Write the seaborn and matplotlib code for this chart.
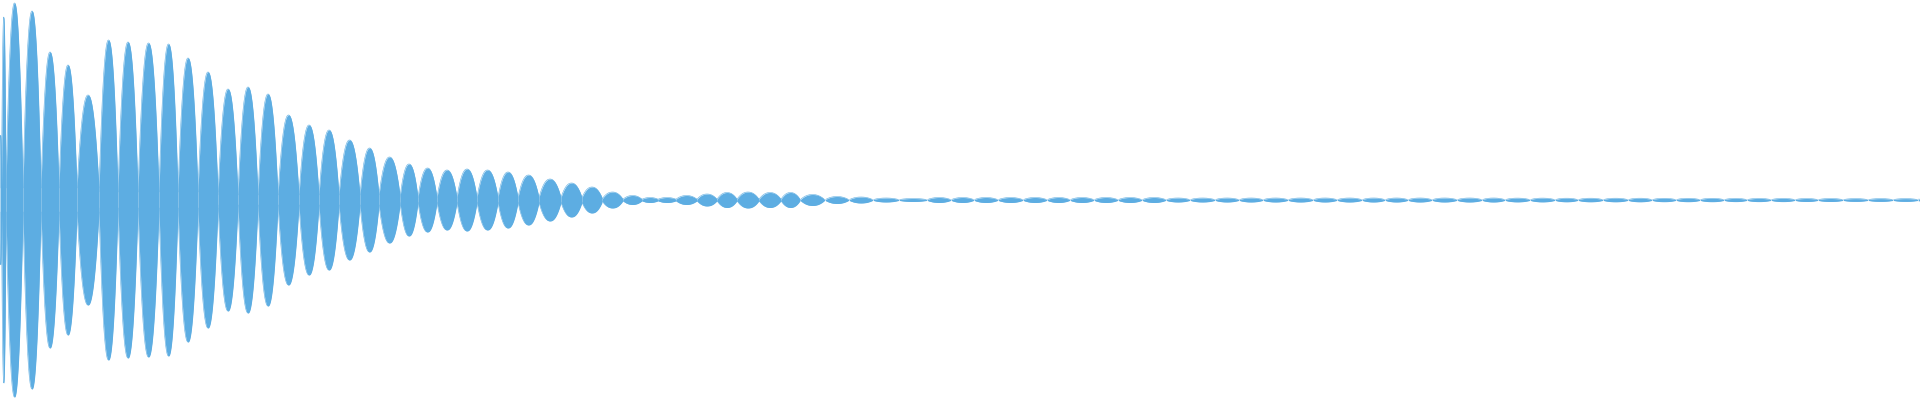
import numpy as np
import pandas as pd
import matplotlib
matplotlib.use("Agg")
import matplotlib.pyplot as plt
import seaborn as sns

# ---- data (x in sample-pixels, amplitude as fraction of full scale)
lobe_edges = [0, 1.5, 6, 23, 41, 59, 77, 99, 118, 138,
              159, 178, 198, 218, 238, 258, 278, 299, 319, 339,
              360, 379, 400, 418, 437, 457, 477, 498, 518, 539,
              561, 582, 602, 623, 642, 658, 676, 697, 717, 737,
              759, 781, 800, 825, 849, 873, 899, 927, 951, 974,
              998, 1023, 1047, 1070, 1094, 1118, 1142, 1166, 1190, 1215,
              1239, 1263, 1288, 1313, 1337, 1362, 1385, 1408, 1432, 1457,
              1482, 1505, 1530, 1555, 1578, 1603, 1628, 1652, 1676, 1700,
              1724, 1747, 1771, 1795, 1818, 1843, 1868, 1893, 1918, 1920]

lobe_peaks = [0.325, 0.915, 0.985, 0.945, 0.74, 0.675, 0.525, 0.80, 0.79, 0.785,
              0.78, 0.71, 0.64, 0.555, 0.565, 0.53, 0.425, 0.375, 0.35, 0.30,
              0.26, 0.215, 0.18, 0.16, 0.15, 0.155, 0.15, 0.14, 0.125, 0.105,
              0.085, 0.065, 0.04, 0.0225, 0.0125, 0.0125, 0.0225, 0.03, 0.0375, 0.04,
              0.0375, 0.0375, 0.0275, 0.0175, 0.015, 0.01, 0.0075,
              0.0125, 0.0125, 0.0125, 0.0125, 0.0125, 0.0125, 0.0125, 0.0125, 0.0125, 0.0125,
              0.01,
              0.01, 0.01, 0.01, 0.01, 0.01, 0.01, 0.01, 0.01, 0.01, 0.01, 0.01, 0.01, 0.01,
              0.0095, 0.0095, 0.009, 0.009, 0.009, 0.009, 0.0085, 0.0085, 0.0085, 0.008,
              0.008, 0.008, 0.0075, 0.0075, 0.007, 0.007, 0.007,
              0.005]

lobe_nodes = [0.06] * 7 + [0.04] * 6 + [0.025] * 9 + [0.0125] * 10 + [0.004] * 10 + [0.0025] * 47

assert len(lobe_edges) - 1 == len(lobe_peaks) == len(lobe_nodes)

COLOR = "#5DADE2"
SHAPE_K = 2.2  # lens-like lobe profile

# ---- build envelope table
rows = []
for i, (s, e, p, nd) in enumerate(zip(lobe_edges[:-1], lobe_edges[1:], lobe_peaks, lobe_nodes)):
    gap = 0.5 if nd < 0.003 else 0.0
    n = max(int((e - s) * 8), 8)
    x = np.linspace(s + gap, e - gap, n)
    u = np.linspace(-1, 1, n)
    env = nd + (p - nd) * (1 - np.abs(u) ** SHAPE_K)
    for xx, vv in zip(x, env):
        rows.append((i, xx, vv, -vv))
df = pd.DataFrame(rows, columns=["lobe", "x", "upper", "lower"])

sns.set_theme(style="white")
fig = plt.figure(figsize=(19.2, 4.0), dpi=100)
ax = fig.add_axes([0, 0, 1, 1])

for i, g in df.groupby("lobe"):
    ax.fill_between(g["x"], g["lower"], g["upper"], color=COLOR, linewidth=0)

sns.lineplot(data=df, x="x", y="upper", units="lobe", estimator=None,
             color=COLOR, linewidth=0.4, ax=ax, legend=False)
sns.lineplot(data=df, x="x", y="lower", units="lobe", estimator=None,
             color=COLOR, linewidth=0.4, ax=ax, legend=False)

ax.set_xlim(0, 1920)
ax.set_ylim(-1.0, 1.0)
ax.axis("off")
fig.savefig("out.png", dpi=100, facecolor="white")
